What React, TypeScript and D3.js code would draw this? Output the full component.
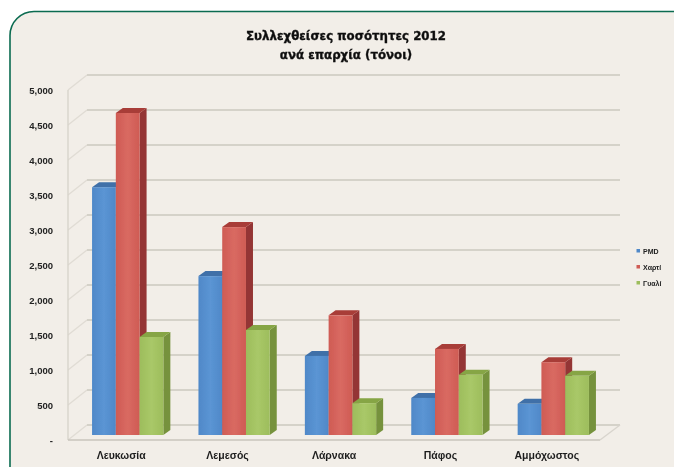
import React from "react";
import * as d3 from "d3";

const width = 674;
const height = 467;

const categories = ["Λευκωσία", "Λεμεσός", "Λάρνακα", "Πάφος", "Αμμόχωστος"];
const seriesNames = ["PMD", "Χαρτί", "Γυαλί"];
const pmdValues = [3540, 2270, 1130, 530, 445];
const paperValues = [4600, 2970, 1710, 1230, 1040];
const glassValues = [1400, 1500, 455, 860, 845];
const tickValues = [0, 500, 1000, 1500, 2000, 2500, 3000, 3500, 4000, 4500, 5000];
const titleLines = ["Συλλεχθείσες ποσότητες 2012", "ανά επαρχία (τόνοι)"];

const seriesValues = [pmdValues, paperValues, glassValues];
const frontColors = ["#4f88c8", "#cf5b54", "#9dbd5c"];
const lightColors = ["#5b95d4", "#d96a62", "#a9c868"];
const sideColors = ["#3c6a9f", "#943634", "#76923c"];
const topColors = ["#3f70a8", "#a83c38", "#86a544"];

// 3D offset of the chart box (front plane -> back wall)
const wallDx = 19;
const wallDy = 15;
// depth of each bar
const barDx = 7;
const barDy = 5;
const barBase = 435;

const fmt = (v: number) => (v === 0 ? "-" : d3.format(",")(v));

export default function App() {
  const yBack = d3.scaleLinear().domain([0, 5000]).range([425, 75]);
  const xFront = d3.scaleBand<string>().domain(categories).range([68, 600]);
  const xGroup = d3
    .scaleBand<string>()
    .domain(categories)
    .range([68, 600])
    .paddingInner(0.33)
    .paddingOuter(0.165);
  const xSeries = d3
    .scaleBand<string>()
    .domain(seriesNames)
    .range([0, xGroup.bandwidth()]);
  const barHeight = d3.scaleLinear().domain([0, 5000]).range([0, 350]);

  const poly = (pts: [number, number][]) => {
    const p = d3.path();
    pts.forEach(([x, y], i) => (i ? p.lineTo(x, y) : p.moveTo(x, y)));
    p.closePath();
    return p.toString();
  };

  const bars = categories.flatMap((c, ci) =>
    seriesNames.map((s, si) => {
      const x = (xGroup(c) as number) + (xSeries(s) as number) + 6.5;
      const w = xSeries.bandwidth();
      const top = barBase - barHeight(seriesValues[si][ci]);
      return { key: c + s, si, x, w, top };
    })
  );

  return (
    <svg
      width={width}
      height={height}
      style={{ position: "absolute", left: 0, top: 0, background: "#fff" }}
    >
      <defs>
        {seriesNames.map((s, i) => (
          <linearGradient key={s} id={`front${i}`} x1="0" x2="1" y1="0" y2="0">
            <stop offset="0" stopColor={frontColors[i]} />
            <stop offset="0.5" stopColor={lightColors[i]} />
            <stop offset="1" stopColor={frontColors[i]} />
          </linearGradient>
        ))}
        <filter id="soft" x="-5%" y="-5%" width="110%" height="110%">
          <feGaussianBlur stdDeviation="0.5" />
        </filter>
      </defs>

      <rect
        x={10}
        y={11.5}
        width={700}
        height={480}
        rx={24}
        fill="#f2eee8"
        stroke="#0b6b50"
        strokeWidth={1.6}
      />

      <g filter="url(#soft)">
        {/* gridlines */}
        {tickValues.map((t) => (
          <g key={t}>
            <line
              x1={68}
              x2={68 + wallDx}
              y1={yBack(t) + wallDy}
              y2={yBack(t)}
              stroke="#e0dcd4"
              strokeWidth={1.4}
            />
            <line
              x1={68 + wallDx}
              x2={620}
              y1={yBack(t)}
              y2={yBack(t)}
              stroke="#cbc8bf"
              strokeWidth={1.4}
            />
            <text
              x={53}
              y={yBack(t) + 16 + 3.2}
              textAnchor="end"
              fontFamily="Liberation Sans"
              fontWeight="bold"
              fontSize={9.5}
              fill="#222"
            >
              {fmt(t)}
            </text>
          </g>
        ))}

        {/* walls and floor */}
        <line x1={68} x2={68} y1={yBack(5000) + wallDy} y2={yBack(0) + wallDy} stroke="#d8d4cc" strokeWidth={1.4} />
        <line x1={68} x2={600} y1={yBack(0) + wallDy} y2={yBack(0) + wallDy} stroke="#c8c5bc" strokeWidth={1.6} />
        <line x1={600} x2={620} y1={yBack(0) + wallDy} y2={yBack(0)} stroke="#d8d4cc" strokeWidth={1.4} />

        {/* bars, left to right so each one covers the side of the previous */}
        {bars.map((b) => (
          <g key={b.key}>
            <path
              d={poly([
                [b.x + b.w, b.top],
                [b.x + b.w + barDx, b.top - barDy],
                [b.x + b.w + barDx, barBase - barDy],
                [b.x + b.w, barBase],
              ])}
              fill={sideColors[b.si]}
            />
            <path
              d={poly([
                [b.x, b.top],
                [b.x + barDx, b.top - barDy],
                [b.x + b.w + barDx, b.top - barDy],
                [b.x + b.w, b.top],
              ])}
              fill={topColors[b.si]}
            />
            <rect x={b.x} y={b.top} width={b.w} height={barBase - b.top} fill={`url(#front${b.si})`} />
          </g>
        ))}

        {/* category labels */}
        {categories.map((c) => (
          <text
            key={c}
            x={(xFront(c) as number) + xFront.bandwidth() / 2}
            y={459}
            textAnchor="middle"
            fontFamily="Liberation Sans"
            fontWeight="bold"
            fontSize={10.5}
            fill="#1c1c1c"
          >
            {c}
          </text>
        ))}

        {/* title */}
        {titleLines.map((line, i) => (
          <text
            key={line}
            x={346}
            y={40 + i * 19}
            textAnchor="middle"
            fontFamily="DejaVu Sans"
            fontWeight="bold"
            fontSize={11.8}
            fill="#111"
            stroke="#111"
            strokeWidth={0.35}
          >
            {line}
          </text>
        ))}

        {/* legend */}
        {seriesNames.map((s, i) => (
          <g key={s} transform={`translate(638,${251 + i * 16})`}>
            <rect x={-1.5} y={-2} width={3.5} height={3.5} fill={frontColors[i]} />
            <text x={5} y={2.5} fontFamily="Liberation Sans" fontWeight="bold" fontSize={7} fill="#222">
              {s}
            </text>
          </g>
        ))}
      </g>
    </svg>
  );
}
